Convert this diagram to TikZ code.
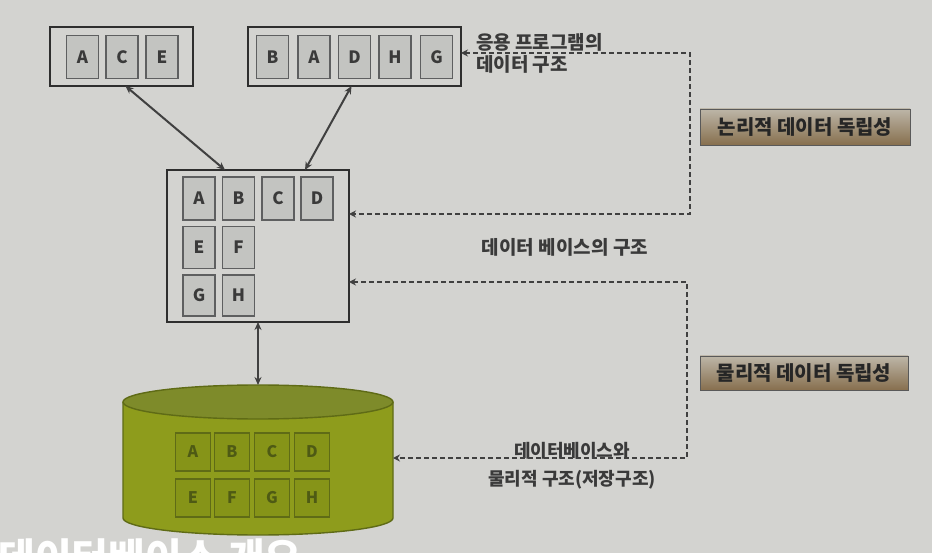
\documentclass[tikz,border=0pt]{standalone}
\usepackage{fontspec}
\setmainfont{Noto Sans CJK KR}
\usetikzlibrary{arrows.meta}
\definecolor{bgc}{HTML}{D3D3D0}
\definecolor{boxline}{HTML}{2E2E2E}
\definecolor{cellfill}{HTML}{C3C4C1}
\definecolor{cellline}{HTML}{5E5F60}
\definecolor{txt}{HTML}{3A3A3A}
\definecolor{dashc}{HTML}{404040}
\definecolor{olivebody}{HTML}{8E9C1C}
\definecolor{olivetop}{HTML}{7E8B2A}
\definecolor{oliveline}{HTML}{5F6B16}
\definecolor{olivecell}{HTML}{869418}
\definecolor{olivetxt}{HTML}{4E5A14}
\definecolor{labtop}{HTML}{BDB6A8}
\definecolor{labbot}{HTML}{876F4E}
\tikzset{
  outerbox/.style={draw=boxline, line width=2.8pt, inner sep=0pt, outer sep=0pt},
  cell/.style={draw=cellline, line width=1.4pt, fill=cellfill, minimum width=32pt, minimum height=43pt, inner sep=0pt, text=txt, font=\fontsize{17}{17}\selectfont\bfseries},
  dbcell/.style={draw=oliveline, line width=1.4pt, fill=olivecell, minimum width=35pt, minimum height=38pt, inner sep=0pt, text=olivetxt, font=\fontsize{16}{16}\selectfont\bfseries},
  solidarrow/.style={draw=dashc, line width=2pt, {Stealth[length=8pt,width=7pt]}-{Stealth[length=8pt,width=7pt]}},
  dasharrow/.style={draw=dashc, line width=2pt, dash pattern=on 5pt off 3pt, {Stealth[length=7pt,width=7pt]}-{Stealth[length=7pt,width=7pt]}},
  lbl/.style={text=txt, font=\fontsize{19}{22}\selectfont\bfseries, inner sep=0pt},
  labbox/.style={draw=gray!70!black, line width=0.8pt, top color=labtop, bottom color=labbot, text=black!85, font=\fontsize{20}{20}\selectfont\bfseries, inner sep=0pt}
}
\begin{document}
\begin{tikzpicture}[x=1pt,y=-1pt]
\useasboundingbox (0,0) rectangle (932,553);
\clip (0,0) rectangle (932,553);
\fill[bgc] (0,0) rectangle (932,553);

% top-left box A C E
\node[outerbox, minimum width=143pt, minimum height=59pt] (ace) at (121.5,56.5) {};
\node[cell] (ace1) at (82.5,57) {A};
\node[cell] (ace2) at (122,57) {C};
\node[cell] (ace3) at (162,57) {E};

% top box B A D H G
\node[outerbox, minimum width=213pt, minimum height=59pt] (badhg) at (354.5,56.5) {};
\node[cell] (b1) at (272.5,57) {B};
\node[cell] (b2) at (314,57) {A};
\node[cell] (b3) at (354.5,57) {D};
\node[cell] (b4) at (395,57) {H};
\node[cell] (b5) at (436.5,57) {G};

% main box
\node[outerbox, minimum width=182pt, minimum height=152pt] (main) at (258,246) {};
\node[cell] (m1) at (199,198.5) {A};
\node[cell] (m2) at (238.5,198.5) {B};
\node[cell] (m3) at (278,198.5) {C};
\node[cell] (m4) at (317,198.5) {D};
\node[cell, minimum height=42pt] (m5) at (199,247.5) {E};
\node[cell, minimum height=42pt] (m6) at (238.5,247.5) {F};
\node[cell, minimum height=41pt] (m7) at (199,295.5) {G};
\node[cell, minimum height=41pt] (m8) at (238.5,295.5) {H};

% cylinder
\fill[olivebody] (123,402) -- (123,518) arc[start angle=180, end angle=360, x radius=135, y radius=-17] -- (393,402) -- cycle;
\draw[oliveline, line width=1.4pt] (123,402) -- (123,518) arc[start angle=180, end angle=360, x radius=135, y radius=-17] -- (393,402);
\filldraw[fill=olivetop, draw=oliveline, line width=1.4pt] (258,402) ellipse[x radius=135, y radius=17];
\node[minimum width=270pt, minimum height=150pt, inner sep=0pt, outer sep=0pt] (db) at (258,460) {};
\node[dbcell] (d1) at (193,452) {A};
\node[dbcell] (d2) at (232,452) {B};
\node[dbcell] (d3) at (272,452) {C};
\node[dbcell] (d4) at (312,452) {D};
\node[dbcell] (d5) at (193,498) {E};
\node[dbcell] (d6) at (232,498) {F};
\node[dbcell] (d7) at (272,498) {G};
\node[dbcell] (d8) at (312,498) {H};

% solid arrows
\draw[solidarrow] ([xshift=4pt]ace.south) -- ([xshift=-33pt]main.north);
\draw[solidarrow] ([xshift=-3pt]badhg.south) -- ([xshift=47pt]main.north);
\draw[solidarrow] (main.south) -- (db.north);

% texts
\node[lbl, anchor=west, align=left] (apptxt) at (476,53) {응용 프로그램의\\데이터 구조};
\node[lbl] (dbstruct) at (565,247) {데이터 베이스의 구조};
\node[lbl, align=center, font=\fontsize{18}{28}\selectfont\bfseries] (phystxt) at (572,466) {데이터베이스와\\물리적 구조(저장구조)};

% label boxes
\node[labbox, minimum width=210pt, minimum height=36pt] (logical) at (805,127) {논리적 데이터 독립성};
\node[labbox, minimum width=208pt, minimum height=34pt] (physical) at (804,373) {물리적 데이터 독립성};

% dashed connectors
\coordinate (lt) at (690,53);
\coordinate (lb) at (690,214);
\draw[dasharrow] (badhg.east |- lt) -- (lt) -- (lb) -- (main.east |- lb);
\coordinate (pt) at (687,282);
\coordinate (pb) at (687,458);
\draw[dasharrow] (main.east |- pt) -- (pt) -- (pb) -- (db.east |- pb);

% cut-off title at the bottom
\node[anchor=north west, text=white, inner sep=0pt, font=\fontsize{40}{40}\selectfont\bfseries] (title) at (-2,538) {데이터베이스 개요};
\end{tikzpicture}
\end{document}
